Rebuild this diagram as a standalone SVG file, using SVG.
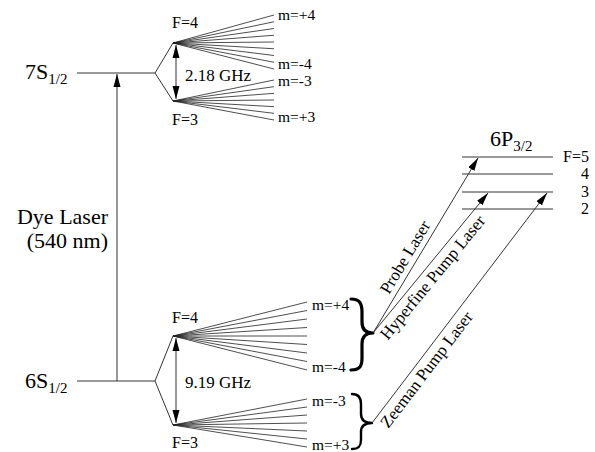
<svg xmlns="http://www.w3.org/2000/svg" width="595" height="452" viewBox="0 0 595 452" font-family="'Liberation Serif', 'Times New Roman', 'DejaVu Serif', serif">
<style>
text{font-family:'Liberation Serif','Times New Roman','DejaVu Serif',serif;fill:#000}
.lvl{stroke:#333;stroke-width:1;fill:none}
.fan{stroke:#222;stroke-width:0.8;fill:none}
.ar{stroke:#333;stroke-width:1;fill:none}
.big{font-size:22px}
.sub{font-size:15px}
.lab{font-size:16px}
.m{font-size:15.5px}
.ghz{font-size:17px}
.las{font-size:17px}
.brace{fill:none;stroke:#000;stroke-linecap:round;stroke-linejoin:round}
</style>
<defs>
<marker id="ah" markerUnits="userSpaceOnUse" markerWidth="14" markerHeight="8" refX="13" refY="3.5" orient="auto-start-reverse" viewBox="0 0 14 7">
<path d="M0,0 L13,3.5 L0,7 Z" fill="#000"/>
</marker>
</defs>

<g id="level-7S">
<path class="lvl" d="M77,73 H155 L173,43 M155,73 L173,101"/>
<text class="big" x="25" y="79">7S<tspan class="sub" dy="5">1/2</tspan></text>
</g>

<g id="fan-7S-F4">
<path class="fan" d="M173,43 L274,15 M173,43 L274,21.75 M173,43 L274,28.5 M173,43 L274,35.25 M173,43 L274,42 M173,43 L274,48.75 M173,43 L274,55.5 M173,43 L274,62.25 M173,43 L274,69"/>
<text class="lab" x="172" y="28">F=4</text>
<text class="m" x="278" y="20">m=+4</text>
<text class="m" x="278" y="69">m=-4</text>
</g>

<g id="fan-7S-F3">
<path class="fan" d="M173,101 L274,80 M173,101 L274,86.67 M173,101 L274,93.33 M173,101 L274,100 M173,101 L274,106.67 M173,101 L274,113.33 M173,101 L274,120"/>
<text class="lab" x="172" y="125">F=3</text>
<text class="m" x="278" y="86">m=-3</text>
<text class="m" x="278" y="122">m=+3</text>
</g>

<g id="split-7S">
<path class="ar" d="M176,45 V99" marker-start="url(#ah)" marker-end="url(#ah)"/>
<text class="ghz" x="185" y="81">2.18 GHz</text>
</g>

<g id="level-6S">
<path class="lvl" d="M77,381 H155 L173,336 M155,381 L173,425"/>
<text class="big" x="25" y="388">6S<tspan class="sub" dy="5">1/2</tspan></text>
</g>

<g id="fan-6S-F4">
<path class="fan" d="M173,336 L307,302 M173,336 L307,310.5 M173,336 L307,319 M173,336 L307,327.5 M173,336 L307,336 M173,336 L307,344.5 M173,336 L307,353 M173,336 L307,361.5 M173,336 L307,370"/>
<text class="lab" x="172" y="323">F=4</text>
<text class="m" x="312" y="310">m=+4</text>
<text class="m" x="312" y="372">m=-4</text>
</g>

<g id="fan-6S-F3">
<path class="fan" d="M173,425 L307,399 M173,425 L307,407 M173,425 L307,415 M173,425 L307,423 M173,425 L307,431 M173,425 L307,439 M173,425 L307,447"/>
<text class="lab" x="172" y="448">F=3</text>
<text class="m" x="312" y="406">m=-3</text>
<text class="m" x="312" y="450">m=+3</text>
</g>

<g id="split-6S">
<path class="ar" d="M176,338 V423" marker-start="url(#ah)" marker-end="url(#ah)"/>
<text class="ghz" x="185" y="388">9.19 GHz</text>
</g>

<g id="level-6P">
<path class="lvl" d="M462,157 H553 M462,174 H553 M462,192 H553 M462,209 H553"/>
<text class="big" x="490" y="146">6P<tspan class="sub" dy="5">3/2</tspan></text>
<text class="lab" x="589" y="162" text-anchor="end">F=5</text>
<text class="lab" x="589" y="179" text-anchor="end">4</text>
<text class="lab" x="589" y="197" text-anchor="end">3</text>
<text class="lab" x="589" y="214" text-anchor="end">2</text>
</g>

<g id="brace-F4">
<path class="brace" stroke-width="3.2" d="M351,299 C360,299 362,304 362,312 L362,322 C362,330 366,333 373,333 C366,333 362,336 362,344 L362,358 C362,366 360,370 351,370"/>
</g>
<g id="brace-F3">
<path class="brace" stroke-width="2.4" d="M352,394 C359,394 361,398 361,404 L361,414 C361,420 365,423 372,423 C365,423 361,426 361,432 L361,440 C361,446 359,449 352,449"/>
</g>

<g id="dye-laser">
<text class="big" x="108" y="224" text-anchor="end">Dye Laser</text>
<text class="big" x="108" y="248" text-anchor="end">(540 nm)</text>
</g>

<g id="connectors">
<path class="ar" d="M117,381 V74" marker-end="url(#ah)"/>
<path class="ar" d="M373,333 L478,158" marker-end="url(#ah)"/>
<path class="ar" d="M373,333 L488,193" marker-end="url(#ah)"/>
<path class="ar" d="M372,423 L547,193" marker-end="url(#ah)"/>
</g>

<g id="laser-labels">
<text class="las" text-anchor="middle" transform="translate(410,260) rotate(-59)">Probe Laser</text>
<text class="las" text-anchor="middle" transform="translate(437,281) rotate(-50.6)">Hyperfine Pump Laser</text>
<text class="las" text-anchor="middle" transform="translate(431,373) rotate(-52.7)">Zeeman Pump Laser</text>
</g>
</svg>
